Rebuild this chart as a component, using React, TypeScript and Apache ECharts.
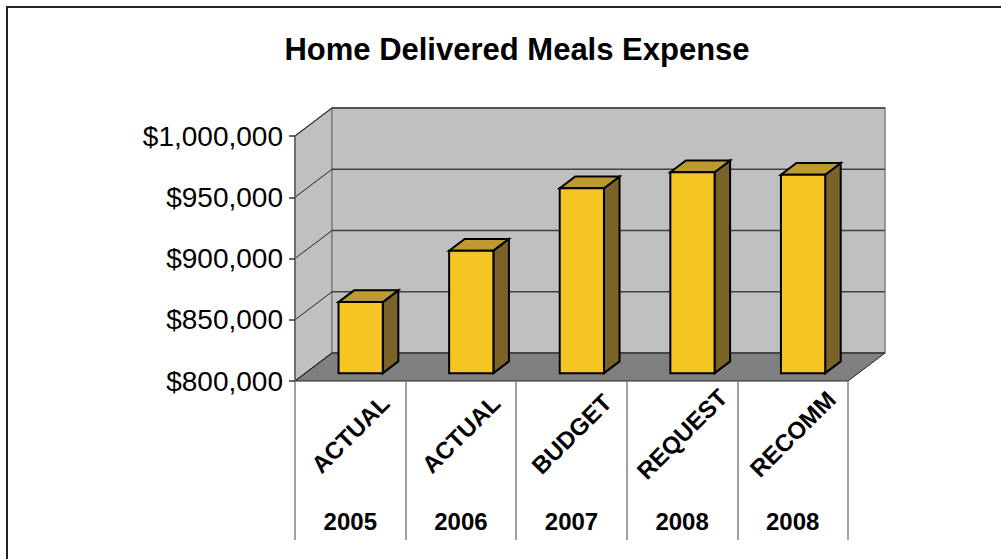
import React, { useEffect, useRef } from "react";
import * as echarts from "echarts";

const categories = ["ACTUAL", "ACTUAL", "BUDGET", "REQUEST", "RECOMM"];
const years = ["2005", "2006", "2007", "2008", "2008"];
const expense = [858000, 900000, 951000, 964000, 962000];
const yTicks = [800000, 850000, 900000, 950000, 1000000];
const Y_MIN = 800000;
const Y_MAX = 1000000;
const Y_STEP = 50000;

const DX = 37;
const DY = -28;
const FRONT_FRAC = 0.28;
const DEPTH_FRAC = 0.42;
const FONT = "'Liberation Sans', Arial, sans-serif";

export default function App() {
  const ref = useRef<HTMLDivElement>(null);
  useEffect(() => {
    if (!ref.current) return;
    const chart = echarts.init(ref.current, null, { renderer: "svg" });
    const option: any = {
      animation: false,
      backgroundColor: "#ffffff",
      title: {
        text: "Home Delivered Meals Expense",
        left: 512,
        textAlign: "center",
        top: 29,
        textStyle: { fontSize: 31, fontWeight: "bold", color: "#000", fontFamily: FONT },
      },
      graphic: [
        {
          type: "rect",
          shape: { x: 7, y: 7, width: 1010, height: 570 },
          style: { fill: "none", stroke: "#222", lineWidth: 2 },
          silent: true,
        },
      ],
      grid: { left: 295, top: 136, width: 553, height: 245, containLabel: false, outerBoundsMode: "none" },
      xAxis: [
        {
          type: "category",
          data: categories,
          position: "bottom",
          axisLine: { show: false },
          axisTick: { show: true, length: 159, lineStyle: { color: "#808080", width: 1.5 } },
          axisLabel: {
            interval: 0,
            rotate: 45,
            align: "center",
            verticalAlign: "middle",
            margin: 53,
            fontSize: 24,
            fontWeight: "bold",
            color: "#000",
            fontFamily: FONT,
          },
          splitLine: { show: false },
          z: 5,
        },
        {
          type: "category",
          data: years,
          position: "bottom",
          axisLine: { show: false },
          axisTick: { show: false },
          axisLabel: {
            interval: 0,
            margin: 128,
            fontSize: 24,
            fontWeight: "bold",
            color: "#000",
            fontFamily: FONT,
          },
          splitLine: { show: false },
          z: 5,
        },
      ],
      yAxis: {
        type: "value",
        min: Y_MIN,
        max: Y_MAX,
        interval: Y_STEP,
        axisLine: { show: true, lineStyle: { color: "#606060", width: 1.5 } },
        axisTick: { show: true, length: 6, lineStyle: { color: "#333", width: 1.5 } },
        axisLabel: {
          margin: 12,
          fontSize: 28,
          color: "#000",
          fontFamily: FONT,
          formatter: (v: number) => "$" + v.toLocaleString("en-US"),
        },
        splitLine: { show: false },
        z: 5,
      },
      series: [
        {
          type: "custom",
          name: "walls",
          xAxisIndex: 0,
          z: 1,
          clip: false,
          silent: true,
          data: [[0, Y_MIN]],
          renderItem: (params: any, api: any) => {
            const cs = params.coordSys;
            const x0 = cs.x, x1 = cs.x + cs.width, yT = cs.y, yB = cs.y + cs.height;
            return {
              type: "group",
              children: [
                {
                  type: "polygon",
                  shape: { points: [[x0, yT], [x0 + DX, yT + DY], [x0 + DX, yB + DY], [x0, yB]] },
                  style: { fill: "#C0C0C0", stroke: "#808080", lineWidth: 1.5 },
                },
                {
                  type: "rect",
                  shape: { x: x0 + DX, y: yT + DY, width: cs.width, height: cs.height },
                  style: { fill: "#C0C0C0", stroke: "#808080", lineWidth: 1.5 },
                },
                {
                  type: "polygon",
                  shape: { points: [[x0, yB], [x1, yB], [x1 + DX, yB + DY], [x0 + DX, yB + DY]] },
                  style: { fill: "#808080", stroke: "#222", lineWidth: 1 },
                },
              ],
            };
          },
        },
        {
          type: "custom",
          name: "gridlines",
          xAxisIndex: 0,
          z: 2,
          clip: false,
          silent: true,
          data: yTicks.map((v) => [0, v]),
          renderItem: (params: any, api: any) => {
            const cs = params.coordSys;
            const x0 = cs.x, x1 = cs.x + cs.width;
            const y = api.coord([0, api.value(1)])[1];
            return {
              type: "group",
              children: [
                {
                  type: "line",
                  shape: { x1: x0 + DX, y1: y + DY, x2: x1 + DX, y2: y + DY },
                  style: { stroke: "#404040", lineWidth: 1.5 },
                },
                {
                  type: "line",
                  shape: { x1: x0, y1: y, x2: x0 + DX, y2: y + DY },
                  style: { stroke: "#222", lineWidth: 1 },
                },
              ],
            };
          },
        },
        {
          type: "custom",
          name: "Expense",
          xAxisIndex: 0,
          z: 3,
          clip: false,
          data: expense.map((v, i) => [i, v]),
          renderItem: (params: any, api: any) => {
            const i = api.value(0);
            const v = api.value(1);
            const base = api.coord([i, Y_MIN]);
            const top = api.coord([i, v]);
            const bw = api.size([1, 0])[0] * 0.4;
            const cx = base[0] + DX * FRONT_FRAC;
            const yb = base[1] + DY * FRONT_FRAC;
            const yt = top[1] + DY * FRONT_FRAC;
            const xl = cx - bw / 2;
            const xr = cx + bw / 2;
            const bdx = DX * DEPTH_FRAC;
            const bdy = DY * DEPTH_FRAC;
            const stroke = { stroke: "#000", lineWidth: 2, lineJoin: "miter" };
            return {
              type: "group",
              children: [
                {
                  type: "polygon",
                  shape: { points: [[xr, yt], [xr + bdx, yt + bdy], [xr + bdx, yb + bdy], [xr, yb]] },
                  style: { fill: "#7A6327", ...stroke },
                },
                {
                  type: "polygon",
                  shape: { points: [[xl, yt], [xr, yt], [xr + bdx, yt + bdy], [xl + bdx, yt + bdy]] },
                  style: { fill: "#BC9A2F", ...stroke },
                },
                {
                  type: "rect",
                  shape: { x: xl, y: yt, width: bw, height: yb - yt },
                  style: { fill: "#F5C623", ...stroke },
                },
              ],
            };
          },
        },
      ],
    };
    chart.setOption(option);
    return () => chart.dispose();
  }, []);
  return (
    <div
      ref={ref}
      style={{ position: "fixed", left: 0, top: 0, width: 1001, height: 559, background: "#fff" }}
    />
  );
}
